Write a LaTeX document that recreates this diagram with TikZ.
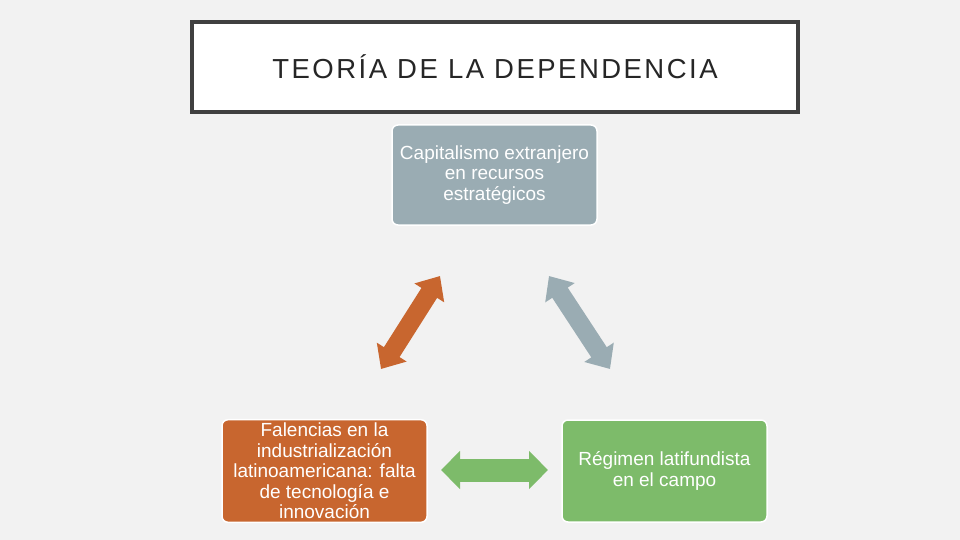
\documentclass[tikz,border=0pt]{standalone}
\usepackage{fontspec}
\setmainfont{Liberation Sans}
\usetikzlibrary{arrows.meta, positioning}

\definecolor{fondo}{HTML}{F2F2F2}
\definecolor{marco}{HTML}{404040}
\definecolor{grisazul}{HTML}{9AACB3}
\definecolor{naranja}{HTML}{C8662F}
\definecolor{verde}{HTML}{7DBB6A}

\tikzset{
  caja/.style={rounded corners=6pt, draw=white, line width=1.5pt, text=white,
    minimum width=205pt, align=center, font=\fontsize{19}{20.5}\selectfont},
  flecha/.style={line width=18.5pt, {Triangle[length=20pt, width=34pt]}-{Triangle[length=20pt, width=34pt]}}
}

\begin{document}
\begin{tikzpicture}[x=1pt, y=-1pt]
\useasboundingbox[fill=fondo] (0,0) rectangle (960,540);

% Title
\node[draw=marco, fill=white, line width=4pt, minimum width=606pt, minimum height=90pt,
  text=black!85, font=\fontsize{27.5}{30}\selectfont\addfontfeature{LetterSpace=9}]
  (titulo) at (495,67) {TEORÍA DE LA DEPENDENCIA};

% Three boxes
\node[caja, fill=grisazul, minimum height=100pt] (capital) at (494.5,175)
  {Capitalismo extranjero\\en recursos\\estratégicos};
\node[caja, fill=naranja, minimum height=102pt] (falencias) at (324.5,471)
  {Falencias en la\\industrialización\\latinoamericana: falta\\de tecnología e\\innovación};
\node[caja, fill=verde, minimum height=102pt] (regimen) at (664.5,471)
  {Régimen latifundista\\en el campo};

% Arrow ends
\coordinate (o1) at (381,369);
\coordinate (o2) at (440,276);
\coordinate (g1) at (549,276);
\coordinate (g2) at (610,369);
\coordinate (v1) at (441,470);
\coordinate (v2) at (548,470);

\draw[flecha, naranja] (o1) -- (o2);
\draw[flecha, grisazul] (g1) -- (g2);
\draw[flecha, verde, line width=23pt,
  {Triangle[length=19pt, width=37pt]}-{Triangle[length=19pt, width=37pt]}] (v1) -- (v2);
\end{tikzpicture}
\end{document}
